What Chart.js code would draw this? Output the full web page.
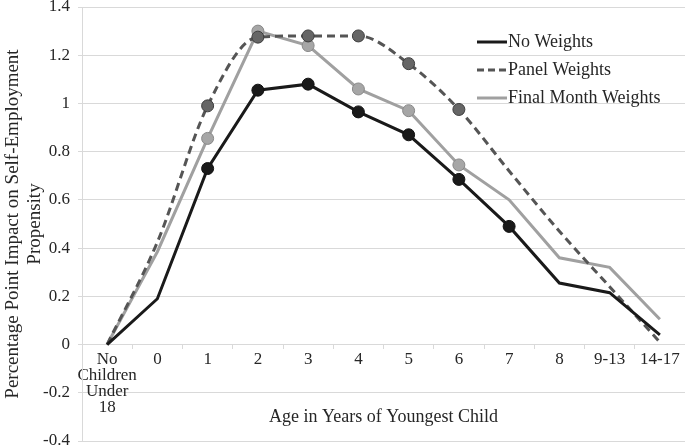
<!DOCTYPE html>
<html>
<head>
<meta charset="utf-8">
<script src="https://cdn.jsdelivr.net/npm/chart.js@4/dist/chart.umd.min.js"></script>
<style>
  body { margin: 0; background: #fff; }
  #wrap { width: 685px; height: 446px; }
</style>
</head>
<body>
<div id="wrap"><canvas id="impactChart" width="685" height="446"></canvas></div>
<script>
// Data
var categories = [['No', 'Children', 'Under', '18'], '0', '1', '2', '3', '4', '5', '6', '7', '8', '9-13', '14-17'];
var noWeights = [0, 0.19, 0.73, 1.055, 1.08, 0.965, 0.87, 0.685, 0.49, 0.255, 0.215, 0.04];
var panelWeights = [0, 0.425, 0.99, 1.275, 1.28, 1.28, 1.165, 0.975, 0.72, 0.47, 0.24, 0.01];
var finalMonthWeights = [0, 0.385, 0.855, 1.30, 1.24, 1.06, 0.97, 0.745, 0.60, 0.36, 0.32, 0.105];

// which points carry a marker in the original
var noWeightsMarked = [2, 3, 4, 5, 6, 7, 8];
var panelMarked = [2, 3, 4, 5, 6, 7];
var finalMarked = [2, 3, 4, 5, 6, 7];

var serif = "'Liberation Serif', 'DejaVu Serif', serif";
var textColor = '#262626';
var gridColor = '#d9d9d9';

function markerRadius(list) {
  return function(ctx) {
    return list.indexOf(ctx.dataIndex) >= 0 ? 6 : 0;
  };
}

// x title + legend drawn by hand, like the original figure
var extras = {
  id: 'extras',
  afterDraw: function(chart) {
    var ctx = chart.ctx;
    var area = chart.chartArea;
    var y = chart.scales.y;
    ctx.save();
    ctx.fillStyle = textColor;
    ctx.font = '18px ' + serif;
    ctx.textAlign = 'center';
    ctx.textBaseline = 'middle';
    ctx.fillText('Age in Years of Youngest Child', (area.left + area.right) / 2, y.getPixelForValue(-0.3));

    var items = [
      { text: 'No Weights', color: '#1a1a1a', dash: [] },
      { text: 'Panel Weights', color: '#555555', dash: [7, 4] },
      { text: 'Final Month Weights', color: '#a0a0a0', dash: [] }
    ];
    var lx = 477, ly = 42;
    ctx.textAlign = 'left';
    for (let i = 0; i < items.length; i++) {
      let yy = ly + i * 28;
      ctx.strokeStyle = items[i].color;
      ctx.lineWidth = 3;
      ctx.setLineDash(items[i].dash);
      ctx.beginPath();
      ctx.moveTo(lx, yy);
      ctx.lineTo(lx + 30, yy);
      ctx.stroke();
      ctx.setLineDash([]);
      ctx.fillText(items[i].text, lx + 31, yy);
    }
    ctx.restore();
  }
};

new Chart(document.getElementById('impactChart'), {
  type: 'line',
  data: {
    labels: categories,
    datasets: [
      {
        label: 'No Weights',
        data: noWeights,
        borderColor: '#1a1a1a',
        backgroundColor: '#1a1a1a',
        borderWidth: 3,
        tension: 0,
        pointRadius: markerRadius(noWeightsMarked),
        pointBorderColor: '#111111',
        pointBackgroundColor: '#1a1a1a',
        pointBorderWidth: 1
      },
      {
        label: 'Panel Weights',
        data: panelWeights,
        borderColor: '#555555',
        backgroundColor: '#5a5a5a',
        borderWidth: 3,
        borderDash: [8, 5],
        cubicInterpolationMode: 'monotone',
        pointRadius: markerRadius(panelMarked),
        pointBorderColor: '#3d3d3d',
        pointBackgroundColor: '#666666',
        pointBorderWidth: 1
      },
      {
        label: 'Final Month Weights',
        data: finalMonthWeights,
        borderColor: '#a0a0a0',
        backgroundColor: '#a0a0a0',
        borderWidth: 3,
        tension: 0,
        pointRadius: markerRadius(finalMarked),
        pointBorderColor: '#888888',
        pointBackgroundColor: '#a6a6a6',
        pointBorderWidth: 1
      }
    ]
  },
  options: {
    responsive: false,
    animation: false,
    layout: { padding: 0 },
    scales: {
      x: {
        position: { y: 0 },
        offset: true,
        grid: {
          drawOnChartArea: false,
          offset: true,
          tickLength: 4,
          color: gridColor
        },
        border: { color: gridColor },
        ticks: {
          color: textColor,
          padding: 3,
          maxRotation: 0,
          autoSkip: false,
          font: { family: serif, size: 17, lineHeight: '16px' }
        },
        afterFit: function(scale) {
          scale.paddingLeft = 0;
          scale.paddingRight = 0;
        }
      },
      y: {
        min: -0.4,
        max: 1.4,
        ticks: {
          stepSize: 0.2,
          color: textColor,
          padding: 8,
          font: { family: serif, size: 17 },
          callback: function(v) {
            return String(+v.toFixed(1));
          }
        },
        grid: { color: gridColor, tickLength: 4 },
        border: { color: gridColor },
        title: {
          display: true,
          text: ['Percentage Point Impact on Self-Employment', 'Propensity'],
          color: textColor,
          padding: { top: 2, bottom: 0 },
          font: { family: serif, size: 19, lineHeight: 1.15 }
        },
        afterFit: function(scale) {
          scale.width = 82;
          scale.paddingTop = 7;
          scale.paddingBottom = 5;
        }
      }
    },
    plugins: {
      legend: { display: false },
      tooltip: { enabled: false }
    }
  },
  plugins: [extras]
});
</script>
</body>
</html>
